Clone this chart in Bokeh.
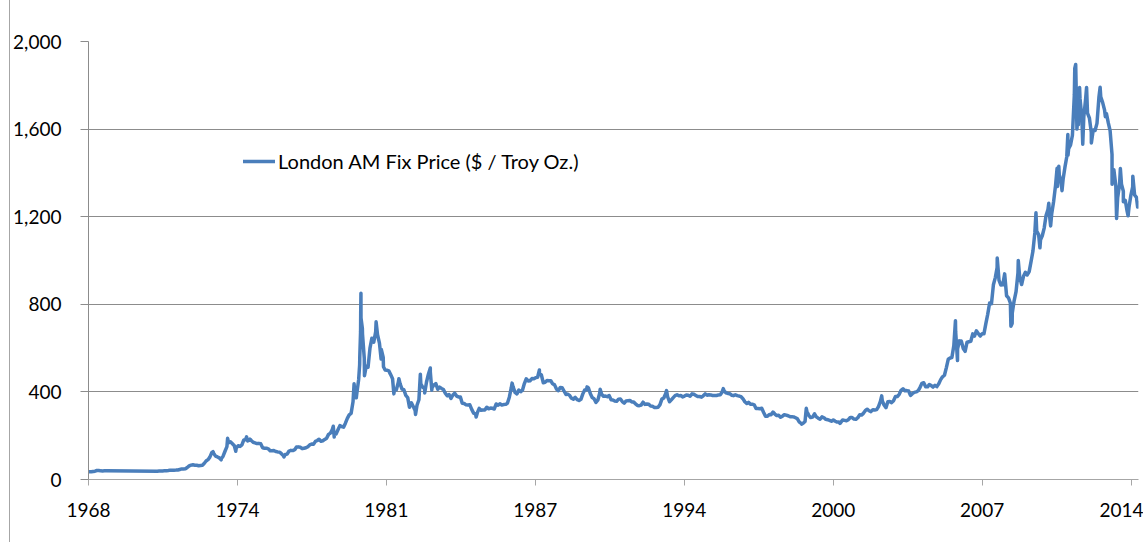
import pandas as pd
from bokeh.plotting import figure
from bokeh.models import Range1d, FixedTicker, NumeralTickFormatter, ColumnDataSource
from bokeh.embed import file_html
from bokeh.resources import INLINE

series_name = "London AM Fix Price ($ / Troy Oz.)"
tick_labels = ["1968", "1974", "1981", "1987", "1994", "2000", "2007", "2014"]
y_ticks = [0, 400, 800, 1200, 1600, 2000]

# monthly levels, Jan-Oct 1968 (then no data until 1971)
prices_1968 = [35.2, 35.2, 36.5, 38.0, 41.0, 41.1, 39.5, 39.2, 39.6, 39.4]

# monthly levels, Jan 1971 - Jun 2014
prices_1971_2014 = [
    37.9, 38.7, 38.9, 39.0, 40.5, 40.1, 41.0, 42.7, 42.0, 42.5, 42.9, 43.5,      # 1971
    45.8, 48.3, 48.3, 49.0, 54.6, 62.1, 65.7, 67.0, 65.5, 64.9, 62.9, 63.9,      # 1972
    65.1, 74.2, 84.4, 90.5, 102.0, 122.5, 120.0, 106.8, 102.9, 98.6, 94.5, 106.7,  # 1973
    129, 150, 168, 172, 163, 154, 143, 154, 151, 158, 181, 183,                  # 1974
    176, 180, 178, 170, 167, 164, 165, 163, 145, 143, 143, 140,                  # 1975
    131, 131, 132, 128, 126, 125, 118, 109, 114, 116, 130, 133,                  # 1976
    132, 136, 148, 149, 147, 141, 143, 145, 150, 158, 162, 161,                  # 1977
    174, 178, 184, 175, 177, 183, 188, 206, 212, 228, 207, 208,                  # 1978
    227, 246, 242, 239, 257, 279, 295, 302, 355, 392, 392, 456,                  # 1979
    675, 665, 553, 517, 513, 600, 645, 627, 674, 661, 623, 594,                  # 1980
    557, 500, 499, 496, 479, 460, 409, 410, 443, 437, 413, 410,                  # 1981
    384, 374, 330, 350, 333, 315, 339, 364, 436, 422, 415, 444,                  # 1982
    481, 491, 419, 432, 438, 412, 422, 416, 411, 394, 382, 388,                  # 1983
    370, 386, 394, 381, 377, 377, 348, 347, 341, 340, 341, 320,                  # 1984
    303, 299, 304, 325, 316, 317, 317, 330, 323, 326, 325, 322,                  # 1985
    345, 339, 346, 340, 342, 343, 348, 376, 418, 423, 398, 391,                  # 1986
    408, 401, 408, 438, 460, 450, 451, 461, 460, 465, 467, 486,                  # 1987
    477, 442, 444, 452, 451, 451, 437, 432, 413, 406, 420, 419,                  # 1988
    404, 388, 390, 384, 371, 367, 375, 365, 361, 366, 391, 409,                  # 1989
    410, 417, 393, 374, 369, 352, 362, 395, 389, 380, 381, 378,                  # 1990
    383, 364, 363, 358, 357, 367, 368, 356, 349, 359, 360, 361,                  # 1991
    354, 354, 345, 338, 337, 340, 353, 343, 345, 344, 335, 334,                  # 1992
    329, 329, 330, 342, 367, 372, 392, 379, 355, 364, 374, 383,                  # 1993
    387, 382, 384, 377, 381, 386, 385, 380, 391, 389, 384, 379,                  # 1994
    379, 376, 382, 391, 385, 387, 386, 383, 383, 383, 386, 387,                  # 1995
    400, 405, 396, 393, 392, 385, 383, 387, 383, 381, 378, 369,                  # 1996
    355, 347, 352, 344, 344, 341, 324, 324, 323, 325, 306, 289,                  # 1997
    289, 297, 296, 308, 299, 292, 293, 284, 289, 296, 294, 291,                  # 1998
    287, 287, 286, 282, 277, 262, 256, 257, 265, 311, 293, 283,                  # 1999
    285, 300, 286, 280, 275, 286, 282, 275, 273, 270, 266, 272,                  # 2000
    266, 262, 263, 261, 272, 270, 268, 273, 283, 283, 276, 275,                  # 2001
    282, 296, 294, 302, 314, 321, 314, 310, 319, 317, 319, 333,                  # 2002
    357, 359, 340, 328, 355, 356, 351, 360, 379, 379, 389, 407,                  # 2003
    414, 405, 406, 404, 384, 392, 398, 400, 405, 420, 439, 442,                  # 2004
    424, 423, 434, 429, 422, 430, 424, 437, 456, 469, 476, 510,                  # 2005
    549, 555, 557, 610, 676, 596, 633, 632, 598, 585, 627, 629,                  # 2006
    631, 665, 655, 679, 667, 655, 665, 665, 712, 754, 806, 803,                  # 2007
    889, 922, 968, 909, 888, 889, 939, 839, 829, 806, 760, 816,                  # 2008
    858, 943, 924, 890, 928, 946, 934, 949, 996, 1043, 1127, 1134,               # 2009
    1118, 1095, 1113, 1148, 1205, 1233, 1193, 1215, 1271, 1342, 1370, 1391,      # 2010
    1356, 1372, 1424, 1474, 1510, 1528, 1572, 1756, 1772, 1666, 1739, 1652,      # 2011
    1656, 1742, 1673, 1650, 1585, 1596, 1594, 1626, 1744, 1747, 1721, 1688,      # 2012
    1671, 1627, 1593, 1485, 1414, 1343, 1286, 1347, 1349, 1316, 1275, 1225,      # 2013
    1244, 1300, 1336, 1299, 1288, 1265,                                          # 2014
]

# daily highs / lows
spike_dates = [
    "1973-07-06", "1973-11-14", "1974-02-26", "1974-07-08", "1974-12-30",
    "1975-02-24", "1976-08-25", "1978-10-31", "1978-11-15", "1979-10-02",
    "1979-11-07", "1979-12-31", "1980-01-02", "1980-01-17", "1980-01-21",
    "1980-01-22", "1980-02-13", "1980-03-18", "1980-09-22", "1980-12-12",
    "1981-01-19", "1981-07-06", "1981-09-25", "1982-06-21", "1982-09-07",
    "1982-11-16", "1983-02-15", "1983-03-11", "1985-02-25", "1986-09-29",
    "1987-12-14", "1990-01-22", "1990-08-22", "1993-07-30", "1996-02-02",
    "1999-07-20", "1999-10-05", "2001-04-02", "2003-02-05", "2006-05-12",
    "2006-06-14", "2008-03-17", "2008-10-24", "2008-11-13", "2009-02-20",
    "2009-12-03", "2010-02-05", "2010-06-28", "2010-07-28", "2010-11-09",
    "2010-11-16", "2010-12-07", "2011-01-28", "2011-05-02", "2011-05-05",
    "2011-08-22", "2011-09-06", "2011-09-26", "2011-10-20", "2011-11-08",
    "2011-12-29", "2012-02-29", "2012-05-16", "2012-10-05", "2012-12-28",
    "2013-04-16", "2013-06-28", "2013-08-28", "2013-10-15", "2013-12-31",
    "2014-03-17", "2014-06-03", "2014-06-16",
]
spike_prices = [
    127, 90, 188, 129, 195,
    184, 103.5, 243, 194, 437,
    373, 524, 559, 760, 850,
    737, 690, 474, 720, 550,
    515, 391, 460, 297, 481,
    395, 509, 408, 285, 440,
    500, 423, 412, 406, 415,
    253, 325, 256, 382, 725,
    543, 1011, 700, 712, 1000,
    1218, 1058, 1261, 1158, 1421,
    1338, 1430, 1319, 1575, 1481,
    1877, 1895, 1600, 1620, 1790,
    1531, 1790, 1537, 1791, 1657,
    1348, 1192, 1420, 1268, 1204,
    1385, 1244, 1263,
]

# ---- assemble the series -------------------------------------------------
dates = [pd.Timestamp(1968, m + 1, 15) for m in range(len(prices_1968))]
dates += [pd.Timestamp(1971 + i // 12, i % 12 + 1, 15) for i in range(len(prices_1971_2014))]
dates += list(pd.to_datetime(spike_dates))
prices = prices_1968 + prices_1971_2014 + spike_prices
df = pd.DataFrame({"date": dates, "price": prices}).sort_values("date")
source = ColumnDataSource(df)

def ms(ts):
    return int(pd.Timestamp(ts).value // 10**6)

axis_start = pd.Timestamp("1968-01-01")
axis_end = pd.Timestamp("2014-06-17")
tick_step = pd.Timedelta(days=2407)
tick_ms = [ms(axis_start + k * tick_step) for k in range(len(tick_labels))]

FONT = "Lato"
GRID = "#8c8c8c"

p = figure(width=1134, height=542, x_axis_type="datetime",
           x_range=Range1d(start=ms(axis_start), end=ms(axis_end)),
           y_range=Range1d(start=0, end=2000),
           output_backend="svg", toolbar_location=None,
           min_border_left=78, min_border_right=6,
           min_border_top=41, min_border_bottom=63)
p.styles = {"margin-left": "9px", "border-left": "1px solid #a6a6a6"}
p.outline_line_color = None
p.background_fill_color = "white"
p.border_fill_color = "white"

p.line("date", "price", source=source, line_color="#4a7ebb", line_width=3.5,
       line_join="round", line_cap="round", legend_label=series_name)

# x axis
p.xaxis.ticker = FixedTicker(ticks=tick_ms)
p.xaxis.major_label_overrides = {t: lab for t, lab in zip(tick_ms, tick_labels)}
p.xaxis.minor_tick_line_color = None
p.xaxis.major_tick_out = 6
p.xaxis.major_tick_in = 0
p.xaxis.major_label_standoff = 17
p.xaxis.axis_line_color = "#a6a6a6"
p.xaxis.major_tick_line_color = "#a6a6a6"
p.xgrid.grid_line_color = None

# y axis
p.yaxis.ticker = FixedTicker(ticks=y_ticks)
p.yaxis.formatter = NumeralTickFormatter(format="0,0")
p.yaxis.minor_tick_line_color = None
p.yaxis.major_tick_out = 8
p.yaxis.major_tick_in = 0
p.yaxis.major_label_standoff = 19
p.yaxis.axis_line_color = GRID
p.yaxis.major_tick_line_color = GRID
p.ygrid.ticker = FixedTicker(ticks=y_ticks)
p.ygrid.grid_line_color = GRID

for ax in (p.xaxis, p.yaxis):
    ax.major_label_text_font = FONT
    ax.major_label_text_font_size = "19px"
    ax.major_label_text_color = "#000000"

leg = p.legend[0]
leg.location = (155, 306)
leg.background_fill_alpha = 0
leg.border_line_alpha = 0
leg.padding = 0
leg.margin = 0
leg.glyph_width = 32
leg.glyph_height = 20
leg.label_height = 20
leg.label_standoff = 3
leg.label_text_font = FONT
leg.label_text_font_size = "20px"
leg.label_text_color = "#000000"

open("out.html", "w").write(file_html(p, INLINE))
